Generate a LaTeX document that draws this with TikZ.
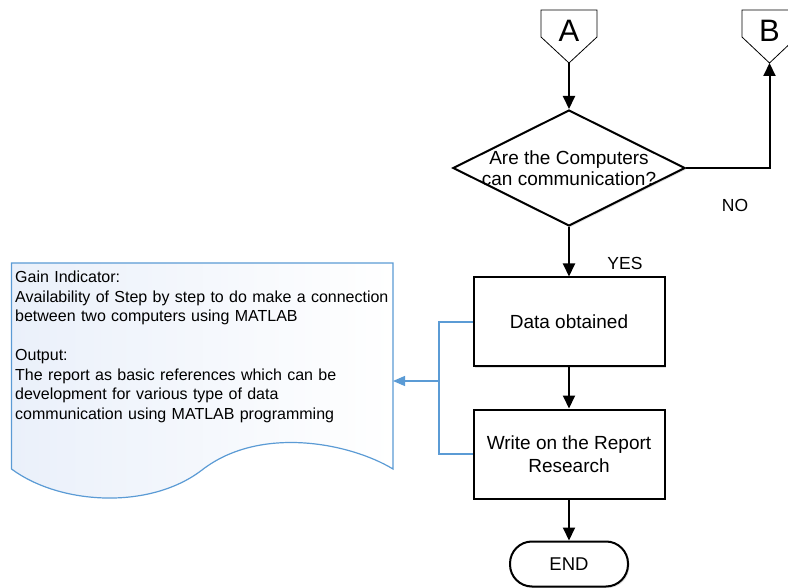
\documentclass[tikz,border=0pt]{standalone}
\usepackage{fontspec}
\setmainfont{Liberation Sans}
\usetikzlibrary{shapes.geometric,arrows.meta,shadows}
\definecolor{flowblue}{RGB}{91,155,213}
\definecolor{docshade}{RGB}{234,240,250}

\begin{document}
\begin{tikzpicture}[x=1pt,y=-1pt,
  flow/.style={line width=2pt,-{Triangle[length=13pt,width=12pt]}},
  link/.style={draw=flowblue,line width=1.2pt},
  softshadow/.style={drop shadow={shadow xshift=1.5pt,shadow yshift=-1.5pt,opacity=1,fill=black!12}},
  procbox/.style={draw,line width=2pt,fill=white,minimum width=191pt,minimum height=89pt,
    align=center,font=\fontsize{19}{22.5}\selectfont,softshadow},
  decision/.style={draw,diamond,line width=2pt,fill=white,minimum width=232pt,minimum height=116pt,inner sep=0pt,
    softshadow},
  endbox/.style={draw,line width=2pt,fill=white,rounded corners=22pt,minimum width=118pt,minimum height=45pt,
    font=\fontsize{18.5}{22}\selectfont,softshadow},
  pagebox/.style={draw,line width=0.8pt,fill=white},
  tag/.style={font=\fontsize{17.5}{20}\selectfont}]
\clip (0,0) rectangle (788,588);

\path (569,63) coordinate(A);
\path (769.5,63) coordinate(B);
\path (439,381) coordinate(J);
\path (393,381) coordinate(D);

\draw [pagebox] (541,10)--(597,10)--(597,37)--(A)--(541,37)--cycle;
\node [font=\fontsize{31}{31}\selectfont] (atext) at (569,31) {A};
\draw [pagebox] (742,10)--(797,10)--(797,37)--(B)--(742,37)--cycle;
\node [font=\fontsize{31}{31}\selectfont] (btext) at (769.5,31) {B};

\node [decision] (ask) at (569,168) {};
\node [align=center,font=\fontsize{19}{21}\selectfont] (asktext) at (ask) {Are the Computers\\can communication?};
\node [procbox] (data) at (569,322) {Data obtained};
\node [procbox] (write) at (569,454) {Write on the Report\\Research};
\node [endbox] (end) at (569,564) {END};

\node [tag] (no) at (735,205) {NO};
\node [tag] (yes) at (625,263) {YES};

\draw [link,left color=docshade,right color=white]
  (11.5,263)--(393,263)--(393,469)
  .. controls (350,443) and (260,425) .. (202,470)
  .. controls (150,510) and (60,505) .. (11.5,469)--cycle;
\node [anchor=north west,inner sep=0pt,text width=385pt,align=left,
  font=\fontsize{16}{19.5}\selectfont] (gain) at (15,271)
  {Gain Indicator:\\
   Availability of Step by step to do make a connection\\
   between two computers using MATLAB\\[19.5pt]
   Output:\\
   The report as basic references which can be\\
   development for various type of data\\
   communication using MATLAB programming};

\draw [flow] (A)--(ask.north);
\draw [flow] (ask.east)-|(B);
\draw [flow] (ask.south)--(data.north);
\draw [flow] (data.south)--(write.north);
\draw [flow] (write.south)--(end.north);

\draw [link] (data.west)-|(J)|-(write.west);
\draw [link,-{Triangle[length=12pt,width=10pt]}] (J)--(D);
\end{tikzpicture}
\end{document}
